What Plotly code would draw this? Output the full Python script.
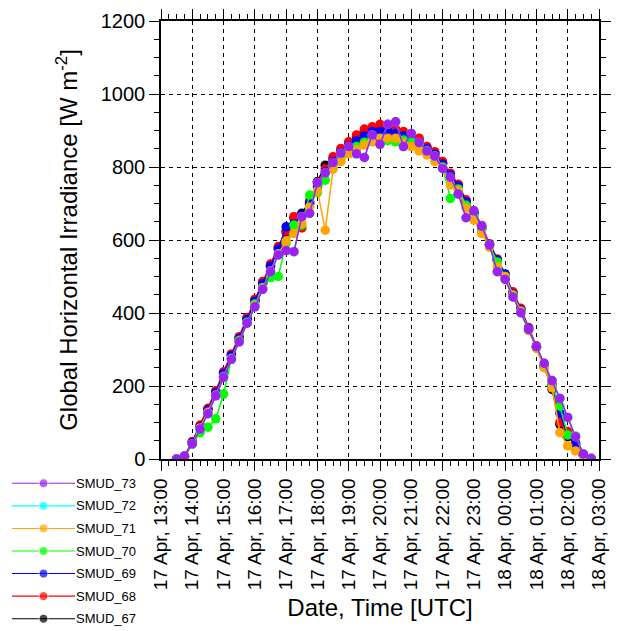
import pandas as pd
import plotly.graph_objects as go

# 15-minute samples, 17 Apr 13:30 UTC to 18 Apr 02:45 UTC
times = pd.date_range("2024-04-17 13:30", periods=54, freq="15min")

smud_67 = [0, 7, 46, 90, 136, 184, 236, 285, 332, 385, 435, 483, 530, 578, 622, 660, 673, 705,
           760, 805, 822, 845, 864, 882, 898, 905, 910, 905, 898, 890, 878, 872, 852, 838, 810,
           778, 748, 705, 675, 635, 586, 545, 502, 455, 410, 357, 307, 252, 191, 95, 61, 40, 10, 0]
smud_68 = [0, 8, 48, 93, 139, 187, 239, 288, 335, 388, 438, 486, 534, 582, 625, 664, 633, 700,
           758, 795, 828, 851, 869, 888, 904, 910, 917, 912, 904, 897, 883, 879, 856, 842, 815,
           783, 753, 710, 680, 640, 590, 548, 505, 458, 413, 360, 310, 255, 205, 100, 75, 45, 12, 0]
smud_69 = [0, 7, 45, 88, 134, 182, 234, 283, 330, 382, 432, 480, 528, 575, 636, 644, 668, 700,
           745, 787, 815, 840, 858, 872, 885, 897, 897, 899, 892, 885, 875, 865, 850, 835, 808,
           778, 748, 705, 672, 630, 588, 545, 507, 452, 408, 357, 306, 255, 200, 125, 65, 41, 10, 0]
smud_70 = [0, 6, 40, 72, 87, 110, 178, 275, 325, 375, 425, 470, 497, 500, 592, 641, 641, 723,
           730, 764, 800, 825, 845, 856, 868, 878, 865, 872, 869, 874, 868, 860, 845, 830, 800,
           714, 740, 695, 665, 625, 585, 540, 500, 450, 405, 355, 305, 252, 200, 145, 66, 63, 12, 0]
smud_71 = [0, 6, 42, 85, 128, 175, 226, 275, 322, 372, 420, 468, 515, 562, 597, 618, 645, 690,
           735, 627, 794, 815, 836, 847, 860, 869, 879, 879, 879, 865, 856, 844, 833, 815, 798,
           751, 735, 687, 655, 618, 580, 527, 500, 448, 405, 352, 303, 250, 195, 72, 36, 22, 8, 0]
smud_72 = [0, 8, 42, 82, 124, 173, 224, 273, 321, 372, 417, 465, 513, 559, 571, 568, 664, 673,
           757, 784, 812, 838, 856, 836, 826, 888, 862, 917, 924, 856, 892, 867, 844, 830, 796,
           772, 726, 661, 680, 638, 586, 513, 492, 444, 401, 355, 308, 262, 215, 166, 114, 61, 14, 2]
smud_73 = [0, 8, 42, 82, 124, 173, 224, 273, 321, 372, 417, 465, 513, 559, 571, 568, 664, 673,
           757, 784, 812, 838, 856, 836, 826, 888, 862, 917, 924, 856, 892, 867, 844, 830, 796,
           772, 726, 661, 680, 638, 586, 513, 492, 444, 401, 355, 308, 262, 215, 166, 114, 61, 14, 2]

names = ["SMUD_67", "SMUD_68", "SMUD_69", "SMUD_70", "SMUD_71", "SMUD_72", "SMUD_73"]
series = [smud_67, smud_68, smud_69, smud_70, smud_71, smud_72, smud_73]
colors = ["#000000", "#FF0000", "#0000FF", "#00FF00", "#FFA500", "#00FFFF", "#A020F0"]

FONT = "Liberation Sans, Arial, Helvetica, sans-serif"
W, H = 622, 631

fig = go.Figure()
for name, vals, col in zip(names, series, colors):
    fig.add_trace(go.Scatter(
        x=times, y=vals, name=name, mode="lines+markers",
        line=dict(color=col, width=1.5),
        marker=dict(color=col, size=9.5),
        showlegend=False, xaxis="x", yaxis="y",
    ))

# Hand-built key in the lower-left corner: first series on the bottom row
for k, (name, col) in enumerate(zip(names, colors)):
    fig.add_trace(go.Scatter(
        x=[0, 0.5, 1], y=[k] * 3, mode="lines+markers",
        line=dict(color=col, width=1.1),
        marker=dict(color=col, size=[0, 9, 0]),
        showlegend=False, hoverinfo="skip", xaxis="x2", yaxis="y2",
    ))
    fig.add_annotation(
        x=1, y=k, xref="x2", yref="y2", text=name, showarrow=False,
        xanchor="left", xshift=-1, font=dict(family=FONT, size=13, color="black"),
    )

axis_common = dict(
    showline=True, linecolor="black", linewidth=1.5, mirror="ticks",
    ticks="outside", ticklen=10, tickwidth=1.2, tickcolor="black",
    showgrid=True, gridcolor="black", gridwidth=1, griddash="4px,4px",
    zeroline=False, automargin=False,
)

fig.update_layout(
    width=W, height=H,
    margin=dict(l=0, r=0, t=0, b=0),
    paper_bgcolor="white", plot_bgcolor="rgba(0,0,0,0)",
    font=dict(family=FONT, color="black"),
    xaxis=dict(
        **axis_common,
        domain=[161 / W, 599 / W],
        type="date",
        range=["2024-04-17 13:00", "2024-04-18 03:00"],
        dtick=3600000, tick0="2024-04-17 13:00",
        tickformat="%d %b, %H:%M", tickangle=-90,
        tickfont=dict(family=FONT, size=19, color="black"),
        minor=dict(dtick=900000, ticklen=5, ticks="outside", tickcolor="black",
                   tickwidth=1, showgrid=False),
        title=dict(text="Date, Time [UTC]", font=dict(family=FONT, size=24), standoff=10),
    ),
    yaxis=dict(
        **axis_common,
        domain=[(H - 459) / H, (H - 21) / H],
        range=[0, 1200], dtick=200,
        tickfont=dict(family=FONT, size=20, color="black"),
        minor=dict(dtick=50, ticklen=5, ticks="outside", tickcolor="black",
                   tickwidth=1, showgrid=False),
        title=dict(text="Global Horizontal Irradiance [W m<sup>-2</sup>]",
                   font=dict(family=FONT, size=24), standoff=16),
    ),
    xaxis2=dict(domain=[12 / W, 75 / W], range=[0, 1], visible=False, fixedrange=True),
    yaxis2=dict(domain=[(H - 630) / H, (H - 472) / H], range=[-0.5, 6.5],
                visible=False, fixedrange=True),
)

fig.write_html("out.html")
